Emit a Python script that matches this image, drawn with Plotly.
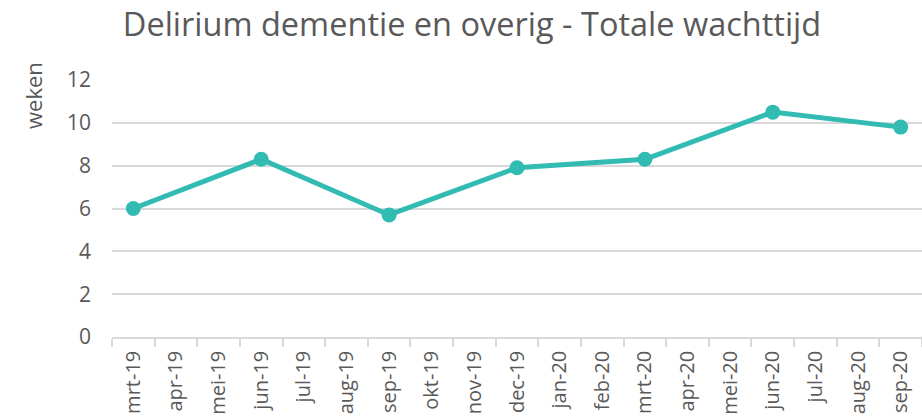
import plotly.graph_objects as go

months = ["mrt-19", "apr-19", "mei-19", "jun-19", "jul-19", "aug-19", "sep-19",
          "okt-19", "nov-19", "dec-19", "jan-20", "feb-20", "mrt-20", "apr-20",
          "mei-20", "jun-20", "jul-20", "aug-20", "sep-20"]
weken = [6.0, None, None, 8.3, None, None, 5.7, None, None, 7.9, None, None,
         8.3, None, None, 10.5, None, None, 9.8]
y_ticks = [0, 2, 4, 6, 8, 10, 12]

TEXT = "#595959"
GRID = "#d9d9d9"
LINE = "#31bbb2"
FONT = "Open Sans"

W, H = 922, 420
L, T, B = 112, 80, 83

fig = go.Figure()
fig.add_trace(go.Scatter(
    x=months, y=weken, mode="lines+markers", connectgaps=True,
    line=dict(color=LINE, width=5),
    marker=dict(color=LINE, size=15),
    showlegend=False, hoverinfo="x+y",
))

fig.update_layout(
    width=W, height=H,
    margin=dict(l=L, r=0, t=T, b=B),
    paper_bgcolor="white", plot_bgcolor="white",
    font=dict(family=FONT, color=TEXT),
    title=dict(text="Delirium dementie en overig - Totale wachttijd",
               x=472 / W, xanchor="center", y=1 - 25 / H, yanchor="middle",
               font=dict(size=32.5, color=TEXT, family=FONT)),
    xaxis=dict(type="category", categoryorder="array", categoryarray=months,
               range=[-0.5, len(months) - 0.5],
               tickangle=-90, tickfont=dict(size=20, color=TEXT),
               ticks="outside", tickson="boundaries", ticklen=8, tickcolor=GRID,
               tickwidth=1.5, ticklabelstandoff=4,
               showline=True, linecolor=GRID, linewidth=1.5,
               showgrid=False, zeroline=False, automargin=False),
    yaxis=dict(range=[0, 12], tickvals=y_ticks,
               tickfont=dict(size=21, color=TEXT),
               ticklabelstandoff=20,
               showgrid=True, gridcolor=GRID, gridwidth=1.5,
               zeroline=False, showline=False),
    annotations=[dict(text="weken", textangle=-90,
                      x=(33 - L) / (W - L), y=(337 - 96) / (H - T - B),
                      xref="paper", yref="paper", xanchor="center", yanchor="middle",
                      showarrow=False, font=dict(size=22, color=TEXT, family=FONT))],
)

# remove the browser's default 8px body margin so the figure fills the window
fig.write_html("out.html", config={"displayModeBar": False},
               post_script="document.body.style.margin='0';")
